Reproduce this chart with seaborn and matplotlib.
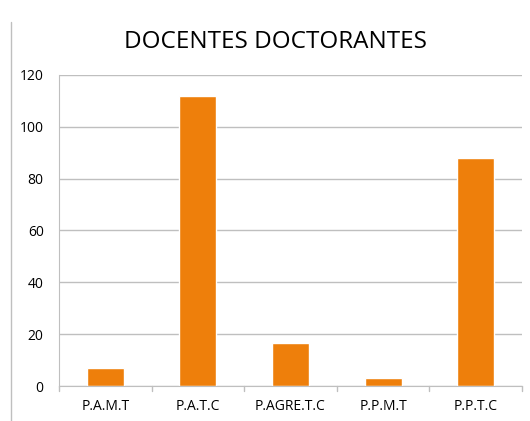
import matplotlib
matplotlib.use("Agg")
import matplotlib.pyplot as plt
import seaborn as sns
import pandas as pd
from matplotlib.lines import Line2D

# data
categorias = ["P.A.M.T", "P.A.T.C", "P.AGRE.T.C", "P.P.M.T", "P.P.T.C"]
docentes = [7, 112, 16.5, 3, 88]
titulo = "DOCENTES DOCTORANTES"

df = pd.DataFrame({"cat": categorias, "n": docentes})

sns.set_style("white")
plt.rcParams["font.family"] = ["Open Sans", "DejaVu Sans"]
plt.rcParams["text.color"] = "black"
plt.rcParams["xtick.labelcolor"] = "black"
plt.rcParams["ytick.labelcolor"] = "black"

fig = plt.figure(figsize=(5.3, 4.21), dpi=100)
ax = fig.add_axes([59 / 530, 1 - 386 / 421, 463 / 530, 311 / 421])

sns.barplot(data=df, x="cat", y="n", color="#EE7F0B", width=0.4, saturation=1, ax=ax)

ax.set_ylim(0, 120)
ax.set_yticks(range(0, 121, 20))
ax.set_xlim(-0.5, len(categorias) - 0.5)
ax.yaxis.grid(True, color="#BFBFBF", linewidth=1)
ax.set_axisbelow(True)
ax.set_xlabel("")
ax.set_ylabel("")

for s in ["top", "right"]:
    ax.spines[s].set_visible(False)
ax.spines["left"].set_color("#BFBFBF")
ax.spines["bottom"].set_color("#BFBFBF")

ax.tick_params(axis="y", length=5, color="#BFBFBF", labelsize=10, pad=6, labelcolor="black")
ax.tick_params(axis="x", length=0, labelsize=10, pad=9, labelcolor="black")
# tick marks between categories
for b in [i - 0.5 for i in range(len(categorias) + 1)]:
    ax.plot([b, b], [0, -2], color="#BFBFBF", lw=1, clip_on=False)

fig.text(276 / 530, 1 - 42 / 421, titulo, fontsize=17.5, ha="center", va="center", color="black")

# chart border on the left side
fig.add_artist(Line2D([11 / 530, 11 / 530], [0.0, 1 - 22 / 421], color="#BFBFBF", lw=1))

fig.savefig("out.png", dpi=100)
